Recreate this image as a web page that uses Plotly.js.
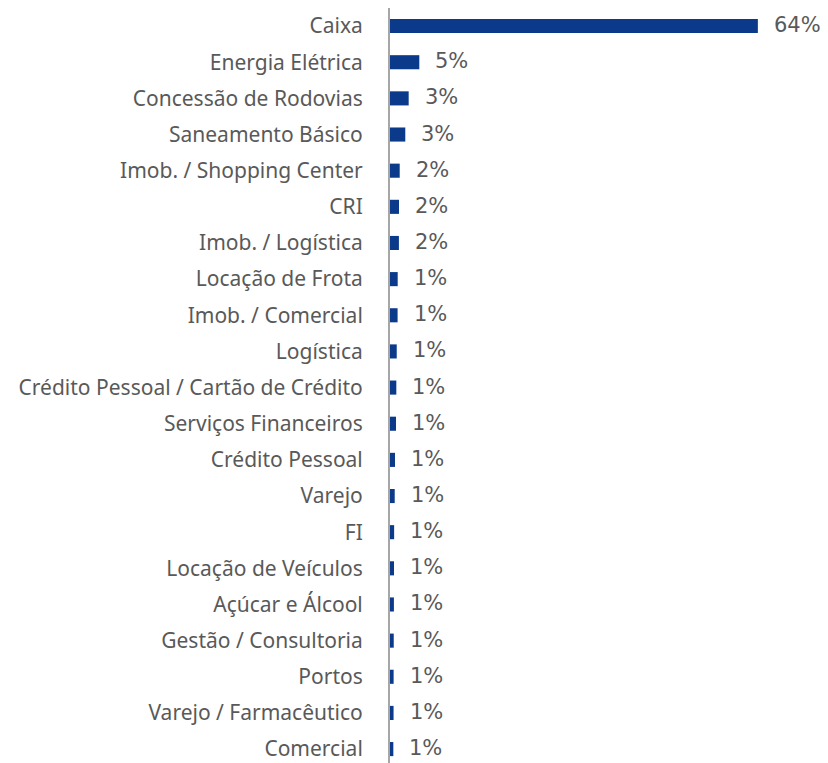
<!DOCTYPE html>
<html>
<head>
<meta charset="utf-8">
<script src="https://cdn.plot.ly/plotly-3.0.1.min.js"></script>
<style>html,body{margin:0;padding:0;background:#fff;}#chart{width:828px;height:763px;}</style>
</head>
<body>
<div id="chart"></div>
<script>
const categories = [
  "Caixa","Energia Elétrica","Concessão de Rodovias","Saneamento Básico",
  "Imob. / Shopping Center","CRI","Imob. / Logística","Locação de Frota",
  "Imob. / Comercial","Logística","Crédito Pessoal / Cartão de Crédito",
  "Serviços Financeiros","Crédito Pessoal","Varejo","FI","Locação de Veículos",
  "Açúcar e Álcool","Gestão / Consultoria","Portos","Varejo / Farmacêutico","Comercial"
];
const values = [64.0,5.1,3.25,2.66,1.69,1.57,1.55,1.34,1.32,1.17,1.10,1.04,0.87,0.82,0.72,0.70,0.68,0.65,0.63,0.62,0.58];
const labels = ["64%","5%","3%","3%","2%","2%","2%","1%","1%","1%","1%","1%","1%","1%","1%","1%","1%","1%","1%","1%","1%"];

const trace = {
  type: 'bar', orientation: 'h',
  x: values, y: categories,
  marker: {color: '#0b3a8a'},
  width: 0.39,
  hoverinfo: 'none'
};
const annotations = categories.map((c, i) => ({
  x: values[i], y: c, xref: 'x', yref: 'y',
  text: labels[i], showarrow: false, xanchor: 'left', xshift: 14, yshift: 1,
  font: {family: '"DejaVu Sans", sans-serif', size: 21, color: '#595959'}
}));
const layout = {
  width: 828, height: 763,
  margin: {l: 390, r: 0, t: 8, b: 0},
  paper_bgcolor: '#fff', plot_bgcolor: '#fff',
  showlegend: false,
  xaxis: {range: [0, 76.2], visible: false, fixedrange: true},
  yaxis: {
    type: 'category', range: [20.385, -0.5],
    showline: true, linecolor: '#a6a6a6', linewidth: 2,
    showgrid: false, zeroline: false, ticks: '',
    ticklabelstandoff: 21,
    tickfont: {family: '"Noto Sans", sans-serif', size: 21, color: '#595959'},
    fixedrange: true
  },
  annotations: annotations
};
Plotly.newPlot('chart', [trace], layout, {displayModeBar: false, staticPlot: true});
</script>
</body>
</html>
